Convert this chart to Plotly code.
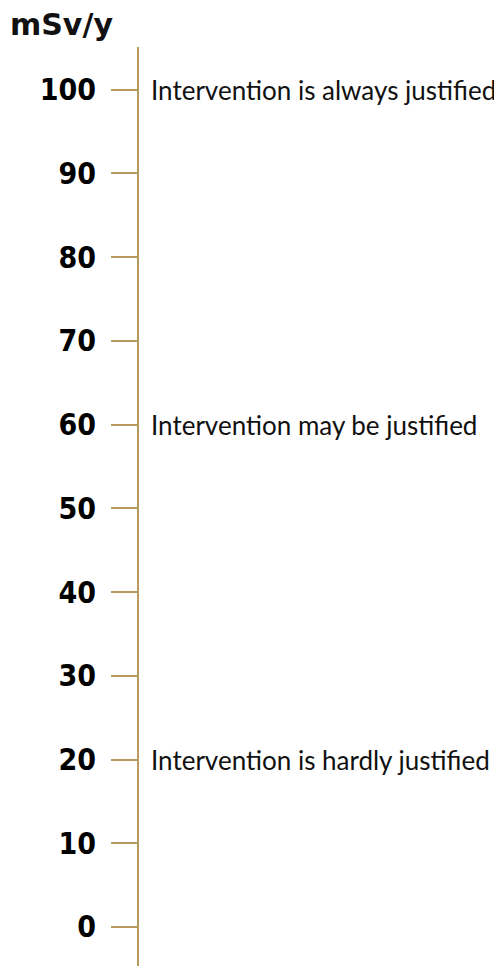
import plotly.graph_objects as go

tick_values = [0, 10, 20, 30, 40, 50, 60, 70, 80, 90, 100]
tick_labels = [str(v) for v in tick_values]
note_levels = [100, 60, 20]
note_texts = ["Intervention is always justified",
              "Intervention may be justified",
              "Intervention is hardly justified"]
axis_title = "mSv/y"

gold = "#b89a5e"
W, H = 494, 958  # page body has an 8px margin

fig = go.Figure()
fig.add_trace(go.Scatter(x=[0.5] * len(tick_values), y=tick_values, mode="markers",
                         marker=dict(opacity=0), hoverinfo="skip", showlegend=False))

for lvl, txt in zip(note_levels, note_texts):
    fig.add_annotation(x=0, y=lvl, xref="paper", yref="y", text=txt,
                       showarrow=False, xanchor="left", yanchor="middle", xshift=10,
                       font=dict(family="Lato", size=26, color="#111111"))

fig.update_layout(
    width=W, height=H,
    margin=dict(l=131, r=0, t=39, b=0),
    paper_bgcolor="white", plot_bgcolor="white",
    title=dict(text=axis_title, x=2 / W, xref="container", xanchor="left",
               y=1 - 16 / H, yref="container", yanchor="middle",
               font=dict(family="DejaVu Sans", size=30, color="#111111", weight="bold")),
    xaxis=dict(visible=False, range=[0, 1], fixedrange=True),
    yaxis=dict(range=[-4.66, 105.1], tickvals=tick_values, ticktext=tick_labels,
               showgrid=False, zeroline=False, showline=True, linecolor=gold, linewidth=2,
               ticks="outside", ticklen=26, tickwidth=2, tickcolor=gold,
               ticklabelstandoff=9,
               tickfont=dict(family="DejaVu Sans Condensed", size=30, color="#000000",
                             weight="bold")),
)

fig.write_html("out.html")
